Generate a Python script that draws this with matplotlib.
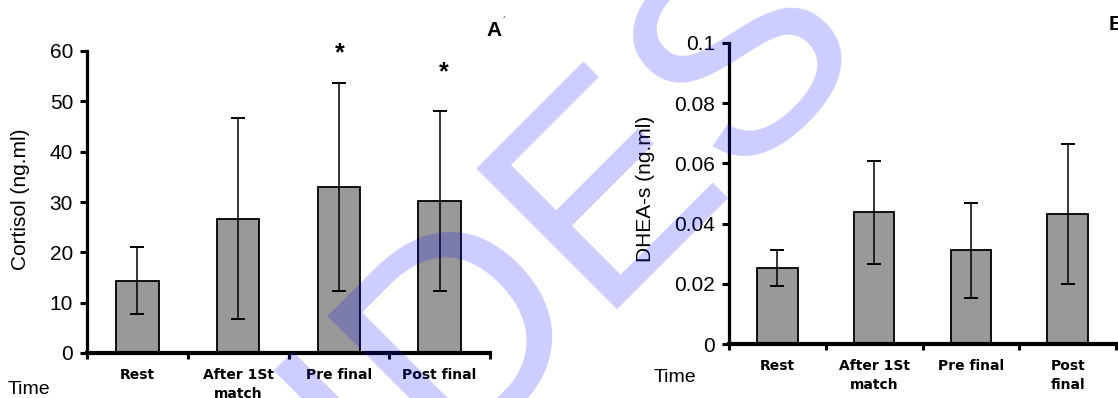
import matplotlib
matplotlib.use("Agg")
import matplotlib.pyplot as plt
import numpy as np

# ---------------- data ----------------
categories_a = ["Rest", "After 1St\nmatch", "Pre final", "Post final"]
categories_b = ["Rest", "After 1St\nmatch", "Pre final", "Post\nfinal"]
cortisol_mean = [14.4, 26.7, 33.0, 30.2]
cortisol_sd = [6.6, 19.9, 20.6, 17.8]
dhea_mean = [0.0252, 0.0437, 0.0311, 0.0431]
dhea_sd = [0.0060, 0.0170, 0.0159, 0.0232]
cortisol_sig = [False, False, True, True]
cortisol_ticks = [0, 10, 20, 30, 40, 50, 60]
dhea_ticks = [0, 0.02, 0.04, 0.06, 0.08, 0.1]
dhea_tick_labels = ["0", "0.02", "0.04", "0.06", "0.08", "0.1"]

# ---------------- layout ----------------
plt.rcParams["font.family"] = ["Liberation Sans", "DejaVu Sans"]
W, H = 1118, 398
fig = plt.figure(figsize=(W / 100, H / 100), dpi=100)


def rect(x0, x1, ytop, ybot):
    return [x0 / W, 1 - ybot / H, (x1 - x0) / W, (ybot - ytop) / H]


def px(x, y):
    return x / W, 1 - y / H


axA = fig.add_axes(rect(87, 490, 51, 353))
axB = fig.add_axes(rect(729, 1116, 43, 344))


def draw(ax, means, sds, labels, yticks, yticklabels, ylabel, label_xy):
    x = np.arange(len(means))
    ax.bar(x, means, width=0.42, color="#999999", edgecolor="black",
           linewidth=1.3, zorder=2)
    ax.errorbar(x, means, yerr=sds, fmt="none", ecolor="black",
                elinewidth=1.1, capsize=5.2, capthick=1.4, zorder=3)
    ax.set_xlim(-0.5, len(means) - 0.5)
    ax.set_ylim(yticks[0], yticks[-1])
    ax.set_yticks(yticks)
    ax.set_yticklabels(yticklabels, fontsize=15)
    ax.set_xticks(x)
    ax.set_xticklabels(labels, fontsize=10, fontweight="bold",
                       family="DejaVu Sans", linespacing=1.45)
    ax.set_xticks(np.arange(len(means) + 1) - 0.5, minor=True)
    ax.tick_params(axis="x", which="major", length=0, pad=11)
    ax.tick_params(axis="x", which="minor", length=4, width=2.2,
                   direction="out")
    ax.tick_params(axis="y", length=5, width=2.2, pad=5)
    for s in ("top", "right"):
        ax.spines[s].set_visible(False)
    ax.spines["left"].set_linewidth(2.3)
    ax.spines["bottom"].set_linewidth(3.0)
    ax.spines["left"].set_zorder(4)
    ax.spines["bottom"].set_zorder(4)
    ax.set_ylabel(ylabel, fontsize=15)
    ax.yaxis.label.set_va("center")
    ax.yaxis.set_label_coords(*label_xy)
    ax.set_facecolor("none")


draw(axA, cortisol_mean, cortisol_sd, categories_a, cortisol_ticks,
     [str(t) for t in cortisol_ticks], "Cortisol (ng.ml)", (-0.164, 0.508))
draw(axB, dhea_mean, dhea_sd, categories_b, dhea_ticks, dhea_tick_labels,
     "DHEA-s (ng.ml)", (-0.2145, 0.515))

# significance stars
star_px = {2: (340, 53), 3: (444, 72)}
for i, sig in enumerate(cortisol_sig):
    if sig:
        fig.text(*px(*star_px[i]), "*", fontsize=18, fontweight="bold",
                 ha="center", va="center")

# panel letters and "Time"
fig.text(*px(494, 30), "A", fontsize=15, fontweight="bold",
         ha="center", va="center")
fig.text(*px(504, 22), "´", fontsize=7, ha="center", va="center")
fig.text(*px(1109, 24), "B", fontsize=15, fontweight="bold",
         ha="left", va="center")
fig.text(*px(29, 389), "Time", fontsize=14, ha="center", va="center")
fig.text(*px(675, 378), "Time", fontsize=14, ha="center", va="center")

# watermark
fig.text(*px(388, 512), "IDES", fontsize=209, family="Liberation Sans",
         color=(0, 0, 1, 0.2), rotation=45, rotation_mode="anchor",
         ha="left", va="baseline", zorder=10)

fig.savefig("out.png", dpi=100)
